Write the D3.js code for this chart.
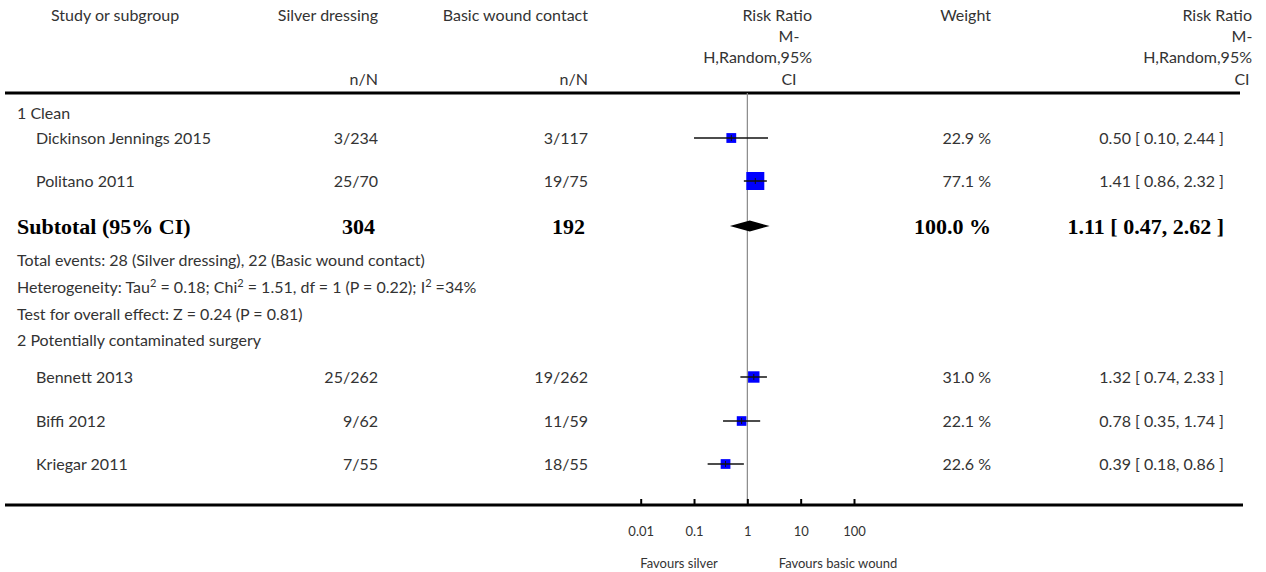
<!DOCTYPE html>
<html>
<head>
<meta charset="utf-8">
<script src="https://cdn.jsdelivr.net/npm/d3@7"></script>
<style>
  body { margin: 0; background: #fff; }
  svg text { font-family: Lato, "Open Sans", sans-serif; }
</style>
</head>
<body>
<svg id="chart" width="1266" height="572"></svg>
<script>
// study level data
const studyNames = ['Dickinson Jennings 2015', 'Politano 2011', 'Bennett 2013', 'Biffi 2012', 'Kriegar 2011'];
const studyRows = ['s0', 's1', 's2', 's3', 's4'];
const silverEvents = [3, 25, 25, 9, 7];
const silverTotal = [234, 70, 262, 62, 55];
const basicEvents = [3, 19, 19, 11, 18];
const basicTotal = [117, 75, 262, 59, 55];
const rrEst = [0.50, 1.41, 1.32, 0.78, 0.39];
const rrLow = [0.10, 0.86, 0.74, 0.35, 0.18];
const rrHigh = [2.44, 2.32, 2.33, 1.74, 0.86];
const weights = [22.9, 77.1, 31.0, 22.1, 22.6];

// subgroup 1 pooled
const subtotalTotals = [304, 192];
const subtotalRR = [1.11, 0.47, 2.62]; // est, low, high
const subtotalWeight = 100.0;

const groupLabels = ['1 Clean', '2 Potentially contaminated surgery'];
const infoLines = [
  'Total events: 28 (Silver dressing), 22 (Basic wound contact)',
  'Heterogeneity: Tau2 = 0.18; Chi2 = 1.51, df = 1 (P = 0.22); I2 =34%',
  'Test for overall effect: Z = 0.24 (P = 0.81)'
];
const axisTicks = [0.01, 0.1, 1, 10, 100];
const axisLabels = ['Favours silver', 'Favours basic wound'];

const svg = d3.select('#chart');
const TEXT = '#333';
const FONT = 16;

// row positions
const rowY = d3.scaleOrdinal()
  .domain(['g1', 's0', 's1', 'sub', 'ev', 'het', 'test', 'g2', 's2', 's3', 's4'])
  .range([113, 138, 181, 226, 260, 287, 314, 340, 377, 421, 464]);

const x = d3.scaleLog().domain([0.01, 100]).range([640.7, 854]);
const f2 = d3.format('.2f');
const f1 = d3.format('.1f');
const ciText = (e, l, h) => `${f2(e)} [ ${f2(l)}, ${f2(h)} ]`;

const COL_SILVER = 378, COL_BASIC = 588, COL_WEIGHT = 991, COL_RR = 1224;

// header
const header = svg.append('g').attr('fill', TEXT).attr('font-size', FONT);
const addText = (g, t, xx, yy, anchor) =>
  g.append('text').attr('x', xx).attr('y', yy).attr('dy', '0.35em')
    .attr('text-anchor', anchor).text(t);

addText(header, 'Study or subgroup', 51, 15, 'start');
addText(header, 'Silver dressing', COL_SILVER, 15, 'end');
addText(header, 'Basic wound contact', COL_BASIC, 15, 'end');
addText(header, 'Weight', COL_WEIGHT, 15, 'end');
addText(header, 'n/N', COL_SILVER, 79, 'end');
addText(header, 'n/N', COL_BASIC, 79, 'end');
[[812, 789], [1252, 1242]].forEach(([r, c]) => {
  addText(header, 'Risk Ratio', r, 15, 'end');
  addText(header, 'M-', c, 36, 'middle');
  addText(header, 'H,Random,95%', r, 57, 'end');
  addText(header, 'CI', c, 79, 'middle');
});

svg.append('line')
  .attr('x1', 5).attr('x2', 1240).attr('y1', 93).attr('y2', 93)
  .attr('stroke', '#000').attr('stroke-width', 3);

// null line
svg.append('line')
  .attr('x1', x(1)).attr('x2', x(1)).attr('y1', 93).attr('y2', 505)
  .attr('stroke', '#888').attr('stroke-width', 1.2);

// table text
const body = svg.append('g').attr('fill', TEXT).attr('font-size', FONT);
addText(body, groupLabels[0], 17, rowY('g1'), 'start');
addText(body, groupLabels[1], 17, rowY('g2'), 'start');

studyNames.forEach((name, i) => {
  const y = rowY(studyRows[i]);
  addText(body, name, 36, y, 'start');
  addText(body, `${silverEvents[i]}/${silverTotal[i]}`, COL_SILVER, y, 'end');
  addText(body, `${basicEvents[i]}/${basicTotal[i]}`, COL_BASIC, y, 'end');
  addText(body, `${f1(weights[i])} %`, COL_WEIGHT, y, 'end');
  addText(body, ciText(rrEst[i], rrLow[i], rrHigh[i]), COL_RR, y, 'end');
});

// info lines, "2" after Tau/Chi/I drawn as superscript
['ev', 'het', 'test'].forEach((key, i) => {
  const t = body.append('text').attr('x', 17).attr('y', rowY(key)).attr('dy', '0.35em');
  let shift = 0;
  infoLines[i].split(/(Tau2|Chi2|I2)/).forEach(p => {
    const m = p.match(/^(Tau|Chi|I)2$/);
    if (m) {
      t.append('tspan').attr('dy', shift || null).text(m[1]);
      t.append('tspan').attr('font-size', 11).attr('dy', -6).text('2');
      shift = 6;
    } else if (p.length) {
      t.append('tspan').attr('dy', shift || null).text(p);
      shift = 0;
    }
  });
});

// subtotal row (bold serif)
const sub = svg.append('g')
  .attr('fill', '#000')
  .attr('font-size', 22)
  .attr('font-weight', 'bold');
const addBold = (t, xx, anchor) =>
  sub.append('text').attr('x', xx).attr('y', rowY('sub')).attr('dy', '0.35em')
    .attr('text-anchor', anchor)
    .style('font-family', '"Liberation Serif", "DejaVu Serif", serif')
    .text(t);
addBold('Subtotal (95% CI)', 17, 'start');
addBold(subtotalTotals[0], COL_SILVER - 3, 'end');
addBold(subtotalTotals[1], COL_BASIC - 3, 'end');
addBold(`${f1(subtotalWeight)} %`, COL_WEIGHT, 'end');
addBold(ciText(...subtotalRR), COL_RR, 'end');

// forest marks
const plot = svg.append('g');
studyNames.forEach((name, i) => {
  const y = rowY(studyRows[i]);
  const s = 2.05 * Math.sqrt(weights[i]);
  plot.append('rect')
    .attr('x', x(rrEst[i]) - s / 2).attr('y', y - s / 2)
    .attr('width', s).attr('height', s)
    .attr('fill', '#0000ff');
  plot.append('line')
    .attr('x1', x(rrLow[i])).attr('x2', x(rrHigh[i]))
    .attr('y1', y).attr('y2', y)
    .attr('stroke', '#111').attr('stroke-width', 1.5);
  plot.append('line')
    .attr('x1', x(rrEst[i])).attr('x2', x(rrEst[i]))
    .attr('y1', y - 3).attr('y2', y + 3)
    .attr('stroke', '#111').attr('stroke-width', 1);
});

const [se, sl, sh] = subtotalRR;
const dy = rowY('sub');
plot.append('path')
  .attr('d', `M${x(sl)},${dy} L${x(se)},${dy - 5.5} L${x(sh)},${dy} L${x(se)},${dy + 5.5} Z`)
  .attr('fill', '#000');

// axis
svg.append('line')
  .attr('x1', 5).attr('x2', 1243).attr('y1', 505).attr('y2', 505)
  .attr('stroke', '#000').attr('stroke-width', 3);

const axis = svg.append('g')
  .attr('transform', 'translate(0,505)')
  .call(
    d3.axisBottom(x)
      .tickValues(axisTicks)
      .tickFormat(d3.format('~g'))
      .tickSize(-6)
      .tickPadding(22)
  );
axis.select('.domain').remove();
axis.selectAll('.tick line').attr('stroke', '#000').attr('stroke-width', 2);
axis.selectAll('.tick text')
  .attr('fill', TEXT)
  .attr('font-size', 13)
  .style('font-family', 'Lato, sans-serif');

const favY = 563;
svg.append('text').attr('x', 679).attr('y', favY).attr('dy', '0.35em')
  .attr('text-anchor', 'middle').attr('font-size', 13).attr('fill', TEXT)
  .text(axisLabels[0]);
svg.append('text').attr('x', 838).attr('y', favY).attr('dy', '0.35em')
  .attr('text-anchor', 'middle').attr('font-size', 13).attr('fill', TEXT)
  .text(axisLabels[1]);
</script>
</body>
</html>
